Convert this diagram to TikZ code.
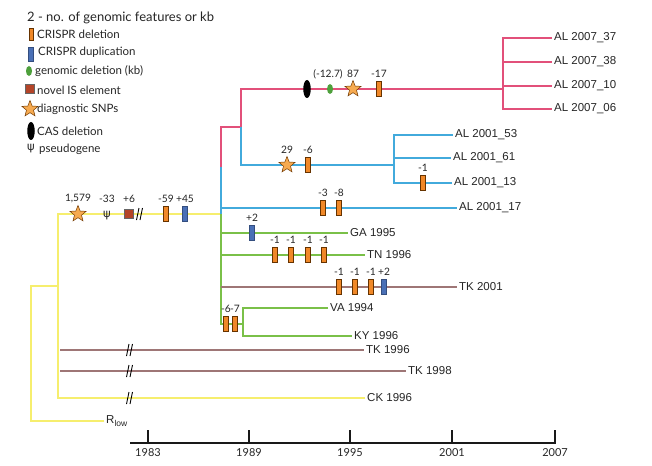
\documentclass[tikz,border=0pt]{standalone}
\usepackage{fontspec}
\setmainfont{Lato}
\newfontfamily\arial{Liberation Sans}
\newfontfamily\grk{DejaVu Sans}
\usetikzlibrary{shapes.geometric}
\definecolor{cpink}{RGB}{226,80,122}
\definecolor{cblue}{RGB}{66,170,220}
\definecolor{cyel}{RGB}{246,238,110}
\definecolor{cgreen}{RGB}{122,192,72}
\definecolor{cbrown}{RGB}{158,118,118}
\definecolor{corange}{RGB}{240,136,40}
\definecolor{cdup}{RGB}{74,112,182}
\definecolor{cstar}{RGB}{246,170,80}
\definecolor{cgdel}{RGB}{78,160,60}
\definecolor{cis}{RGB}{180,68,40}
\tikzset{
  br/.style={line width=2.6pt},
  pk/.style={br,draw=cpink},
  bl/.style={br,draw=cblue},
  yl/.style={br,draw=cyel},
  gr/.style={br,draw=cgreen},
  bn/.style={br,draw=cbrown},
  leaf/.style={anchor=west,font=\arial\fontsize{11.5}{13}\selectfont,inner sep=2pt,text=black!85},
  ann/.style={font=\fontsize{10.2}{12}\selectfont,inner sep=0pt,text=black!85},
  lgtxt/.style={anchor=west,font=\fontsize{11.5}{13}\selectfont,inner sep=0pt,text=black!85},
  del/.style={rectangle,draw=black!60!orange,line width=0.5pt,fill=corange,minimum width=5pt,minimum height=15pt,inner sep=0pt},
  dup/.style={rectangle,draw=cdup!70!black,line width=0.4pt,fill=cdup,minimum width=5pt,minimum height=15pt,inner sep=0pt},
  snp/.style={star,star points=5,star point ratio=2.3,fill=cstar,draw=black!55!orange,line width=0.5pt,minimum size=17pt,inner sep=0pt},
  cas/.style={ellipse,fill=black,minimum width=7.5pt,minimum height=18pt,inner sep=0pt},
  gdel/.style={ellipse,fill=cgdel,minimum width=6pt,minimum height=10pt,inner sep=0pt},
  isel/.style={rectangle,fill=cis,draw=black!60,line width=0.5pt,minimum size=9pt,inner sep=0pt},
  psi/.style={font=\grk\fontsize{11.5}{13}\selectfont,inner sep=0pt,text=black!85},
  axisln/.style={line width=1.6pt,draw=black!90},
  ticklbl/.style={font=\fontsize{11}{13}\selectfont,inner sep=0pt,text=black!85},
  brk/.pic={\draw[black,line width=0.9pt] (-3.5,6)--(-1,-6) (0,6)--(2.5,-6);}
}
\newcommand\feat[5]{\node[#1] (#2) at (#3,#4) {}; \node[ann] (#2t) at (#3,#4-15.5) {#5};}
\begin{document}
\begin{tikzpicture}[x=1pt,y=-1pt]
\useasboundingbox[fill=white] (0,0) rectangle (652,465);

% ---------- legend ----------
\node[lgtxt,font=\fontsize{13}{15}\selectfont] (lg0) at (27,18) {2 - no. of genomic features or kb};
\node[del,minimum height=12pt,minimum width=4.5pt] (lgm1) at (31,34) {};
\node[lgtxt] (lgt1) at (37,34) {CRISPR deletion};
\node[dup,minimum height=14pt] (lgm2) at (31,54) {};
\node[lgtxt] (lgt2) at (38,52) {CRISPR duplication};
\node[gdel] (lgm3) at (29,71) {};
\node[lgtxt] (lgt3) at (35,71) {genomic deletion (kb)};
\node[isel] (lgm4) at (30,89) {};
\node[lgtxt] (lgt4) at (37,90) {novel IS element};
\node[snp] (lgm5) at (30,109) {};
\node[lgtxt] (lgt5) at (37,109) {diagnostic SNPs};
\node[cas] (lgm6) at (31,131) {};
\node[lgtxt] (lgt6) at (37,131) {CAS deletion};
\node[psi] (lgm7) at (31,149) {ψ};
\node[lgtxt] (lgt7) at (39,149) {pseudogene};

% ---------- leaves ----------
\node[leaf] (al37) at (552,38) {AL 2007\_37};
\node[leaf] (al38) at (552,62) {AL 2007\_38};
\node[leaf] (al10) at (552,86) {AL 2007\_10};
\node[leaf] (al06) at (552,109) {AL 2007\_06};
\node[leaf] (al53) at (453,135) {AL 2001\_53};
\node[leaf] (al61) at (451,158) {AL 2001\_61};
\node[leaf] (al13) at (452,183) {AL 2001\_13};
\node[leaf] (al17) at (457,208) {AL 2001\_17};
\node[leaf] (ga) at (348,233) {GA 1995};
\node[leaf] (tn) at (365,255) {TN 1996};
\node[leaf] (tk01) at (457,287) {TK 2001};
\node[leaf] (va) at (328,308) {VA 1994};
\node[leaf] (ky) at (352,336) {KY 1996};
\node[leaf] (tk96) at (364,350) {TK 1996};
\node[leaf] (tk98) at (406,371) {TK 1998};
\node[leaf] (ck) at (365,398) {CK 1996};
\node[leaf] (rlow) at (104,421) {R\raisebox{-0.45ex}{\fontsize{8.5}{9}\selectfont low}};

% ---------- junctions ----------
\coordinate (r1) at (31,286);
\coordinate (r2) at (58,286);
\coordinate (y0) at (58,214);
\coordinate (hub) at (221,214);
\coordinate (t96) at (60,350);
\coordinate (t98) at (60,371);
\coordinate (g1) at (221,324);
\coordinate (g2) at (243,324);
\coordinate (gA) at (221,233);
\coordinate (gT) at (221,255);
\coordinate (gK) at (221,287);
\coordinate (b0) at (221,167);
\coordinate (b17) at (221,208);
\coordinate (k1) at (221,127);
\coordinate (k2) at (241,127);
\coordinate (k3) at (241,89);
\coordinate (k4) at (503,89);
\coordinate (k6) at (503,62);
\coordinate (k7) at (503,86);
\coordinate (c1) at (241,165);
\coordinate (c2) at (394,165);
\coordinate (c3) at (394,158);

% ---------- branches ----------
\draw[yl] (rlow.west) -| (r1) -- (r2);
\draw[yl] (ck.west) -| (y0) -- (hub);
\draw[bn] (t96) -- (tk96.west);
\draw[bn] (t98) -- (tk98.west);
\draw[gr] (hub) -- (g1) -- (g2);
\draw[gr] (gA) -- (ga.west);
\draw[gr] (gT) -- (tn.west);
\draw[bn] (gK) -- (tk01.west);
\draw[gr] (va.west) -| (g2) |- (ky.west);
\draw[bl] (b0) -- ([yshift=0.5pt]hub);
\draw[bl] (b17) -- (al17.west);
\draw[pk] (b0) -- (k1) -- (k2) -- (k3) -- (k4);
\draw[pk] (al37.west) -| (k4) |- (al06.west);
\draw[pk] (k6) -- (al38.west);
\draw[pk] (k7) -- (al10.west);
\draw[bl] (k2) -- (c1) -- (c2);
\draw[bl] (al53.west) -| (c2) |- (al13.west);
\draw[bl] (c3) -- (al61.west);

% ---------- breaks ----------
\pic (bk1) at (140,214) {brk};
\pic (bk2) at (130,350) {brk};
\pic (bk3) at (130,371) {brk};
\pic (bk4) at (130,398) {brk};

% ---------- features ----------
\feat{snp}{fy1}{78}{214}{1,579}
\node[psi] (fy2) at (107,216) {ψ};
\node[ann] (fy2t) at (107,198.5) {-33};
\feat{isel}{fy3}{129}{214}{+6}
\feat{del}{fy4}{166}{214}{-59}
\feat{dup}{fy5}{185}{214}{+45}

\node[cas] (fp1) at (307,89) {};
\node[gdel] (fp2) at (330,89) {};
\node[ann] (fp2t) at (328,74) {(-12.7)};
\feat{snp}{fp3}{353}{89}{87}
\feat{del}{fp4}{379}{89}{-17}

\feat{snp}{fb1}{287}{165}{29}
\feat{del}{fb2}{308}{165}{-6}
\feat{del}{fb3}{423}{183}{-1}
\feat{del}{fb4}{323}{208}{-3}
\feat{del}{fb5}{339}{208}{-8}

\feat{dup}{fg1}{252}{233}{+2}
\feat{del}{fn1}{275}{255}{-1}
\feat{del}{fn2}{291}{255}{-1}
\feat{del}{fn3}{308}{255}{-1}
\feat{del}{fn4}{324}{255}{-1}

\feat{del}{fk1}{339}{287}{-1}
\feat{del}{fk2}{355}{287}{-1}
\feat{del}{fk3}{371}{287}{-1}
\feat{dup}{fk4}{384}{287}{+2}

\feat{del}{fv1}{226}{324}{-6}
\feat{del}{fv2}{235}{324}{-7}

% ---------- time axis ----------
\coordinate (ax0) at (130,443);
\coordinate (ax1) at (556,443);
\draw[axisln] (ax0) -- (ax1);
\foreach \xx/\yr in {148/1983,249/1989,350/1995,452/2001,555/2007}{
  \coordinate (tk\yr) at (\xx,443);
  \draw[axisln] (tk\yr) -- ++(0,-13);
  \node[ticklbl] (tl\yr) at (\xx,453) {\yr};
}
\end{tikzpicture}
\end{document}
